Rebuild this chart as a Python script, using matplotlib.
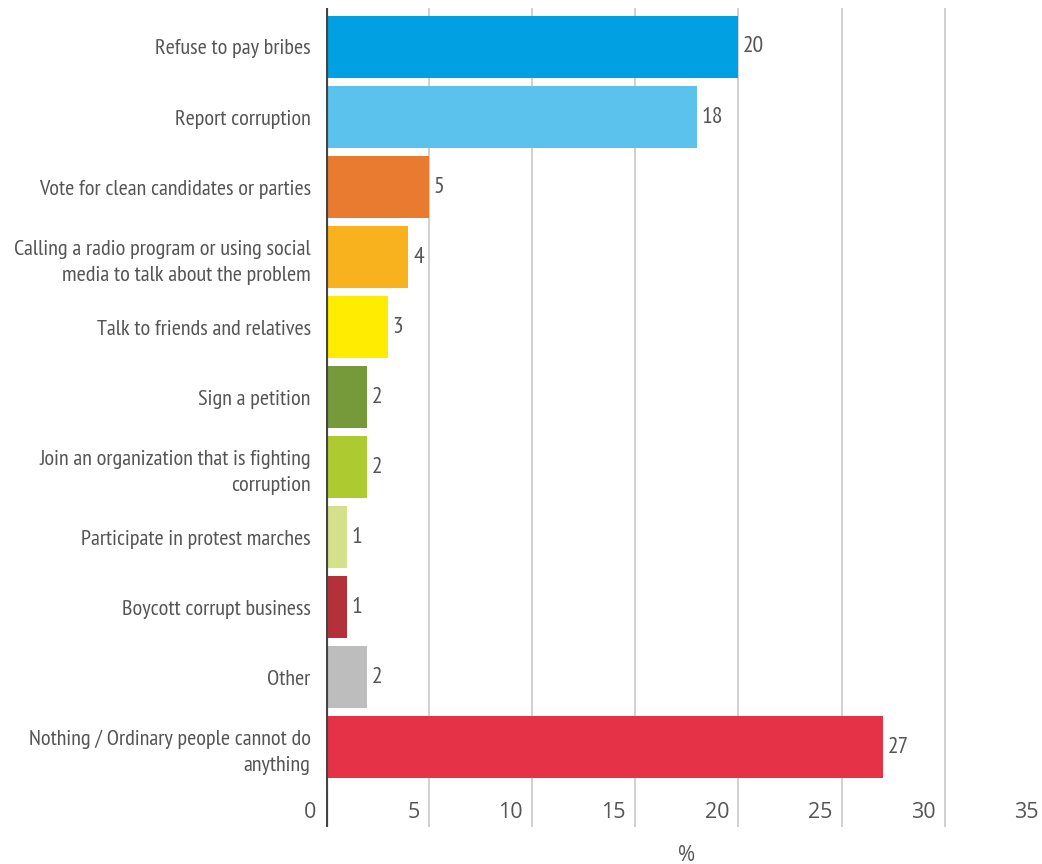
import matplotlib
matplotlib.use("Agg")
import matplotlib.pyplot as plt
from matplotlib import font_manager

categories = [
    "Refuse to pay bribes",
    "Report corruption",
    "Vote for clean candidates or parties",
    "Calling a radio program or using social\nmedia to talk about the problem",
    "Talk to friends and relatives",
    "Sign a petition",
    "Join an organization that is fighting\ncorruption",
    "Participate in protest marches",
    "Boycott corrupt business",
    "Other",
    "Nothing / Ordinary people cannot do\nanything",
]
values = [20, 18, 5, 4, 3, 2, 2, 1, 1, 2, 27]
colors = ["#00A0E3", "#5BC2EE", "#E87B30", "#F7B21E", "#FFEC00", "#76993A",
          "#AECA31", "#D4E08A", "#B5313A", "#BDBDBD", "#E63247"]
xticks = [0, 5, 10, 15, 20, 25, 30, 35]
xlabel = "%"

names = {f.name for f in font_manager.fontManager.ttflist}
fam = "DejaVu Sans"
for cand in ["PT Sans Narrow", "Archivo Narrow", "Asap Condensed", "Barlow Semi Condensed"]:
    if cand in names:
        fam = cand
        break
tickfam = "Open Sans" if "Open Sans" in names else "DejaVu Sans"
plt.rcParams["font.family"] = [fam, "DejaVu Sans"]

W, H = 1042, 864
fig = plt.figure(figsize=(W / 100, H / 100), dpi=100)
ax = fig.add_axes([326 / W, 1 - 827 / H, (1047.7 - 326) / W, (827 - 8) / H])

txt = "#555555"
ypos = list(range(len(categories)))
ax.barh(ypos, values, height=0.886, color=colors, zorder=3)
ax.set_xlim(0, 35)
ax.set_ylim(11.14, -0.557)

for x in xticks[1:]:
    ax.axvline(x, color="#C4C4C4", lw=1.1, zorder=1)
ax.axvline(0, color="#444444", lw=3, zorder=4)

for y, v in zip(ypos, values):
    ax.text(v + 0.22, y, f"{v}", va="center", ha="left", fontsize=17, color=txt)

for x in xticks:
    ax.text(x - 0.45, 10.94, f"{x}", va="center", ha="right", fontsize=15.5,
            color=txt, family=[tickfam, "DejaVu Sans"])

ax.set_yticks(ypos)
ax.set_yticklabels(categories, fontsize=16, color=txt, linespacing=1.45)
ax.tick_params(axis="y", length=0, pad=11)
ax.set_xticks([])
for s in ax.spines.values():
    s.set_visible(False)

ax.text(0.5, -0.022, xlabel, transform=ax.transAxes, ha="center", va="top",
        fontsize=15, color=txt, family=[tickfam, "DejaVu Sans"])

fig.savefig("out.png", dpi=100)
